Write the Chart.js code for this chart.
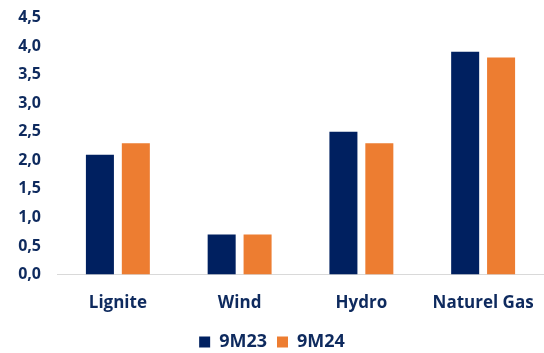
<!DOCTYPE html>
<html>
<head>
<meta charset="utf-8">
<script src="https://cdn.jsdelivr.net/npm/chart.js@4/dist/chart.umd.min.js"></script>
<style>
  html, body { margin: 0; padding: 0; background: #fff; }
  #wrap { width: 544px; height: 353px; }
</style>
</head>
<body>
<div id="wrap"><canvas id="chart"></canvas></div>
<script>
// data
var categories = ["Lignite", "Wind", "Hydro", "Naturel Gas"];
var series9M23 = [2.1, 0.7, 2.5, 3.9];
var series9M24 = [2.3, 0.7, 2.3, 3.8];
var seriesNames = ["9M23", "9M24"];

var textColor = "#0e2a5e";
var fontFamily = "'Open Sans', 'Noto Sans', sans-serif";

var chart = new Chart(document.getElementById("chart"), {
    type: 'bar',
    data: {
        labels: categories,
        datasets: [{
            label: seriesNames[0],
            data: series9M23,
            backgroundColor: '#002060',
            categoryPercentage: 0.59,
            barPercentage: 0.78
        }, {
            label: seriesNames[1],
            data: series9M24,
            backgroundColor: '#ed7d31',
            categoryPercentage: 0.59,
            barPercentage: 0.78
        }]
    },
    options: {
        responsive: true,
        maintainAspectRatio: false,
        animation: false,
        layout: { padding: { top: 12, right: 0, left: 0, bottom: -8 } },
        scales: {
            x: {
                grid: { display: false },
                border: { color: '#d9d9d9', width: 1 },
                ticks: {
                    color: textColor,
                    padding: 10,
                    font: { family: fontFamily, size: 17, weight: 'bold' }
                }
            },
            y: {
                min: 0,
                max: 4.5,
                grid: { display: false },
                border: { display: false },
                ticks: {
                    stepSize: 0.5,
                    color: textColor,
                    padding: 8,
                    font: { family: fontFamily, size: 16, weight: 'bold' },
                    callback: function(v) { return v.toFixed(1).replace('.', ','); }
                },
                afterFit: function(scale) { scale.width = 57; }
            }
        },
        plugins: {
            legend: {
                position: 'bottom',
                labels: {
                    color: textColor,
                    boxWidth: 11,
                    boxHeight: 11,
                    padding: 10,
                    font: { family: fontFamily, size: 18, weight: 'bold' }
                }
            },
            tooltip: { enabled: false }
        }
    }
});
</script>
</body>
</html>
